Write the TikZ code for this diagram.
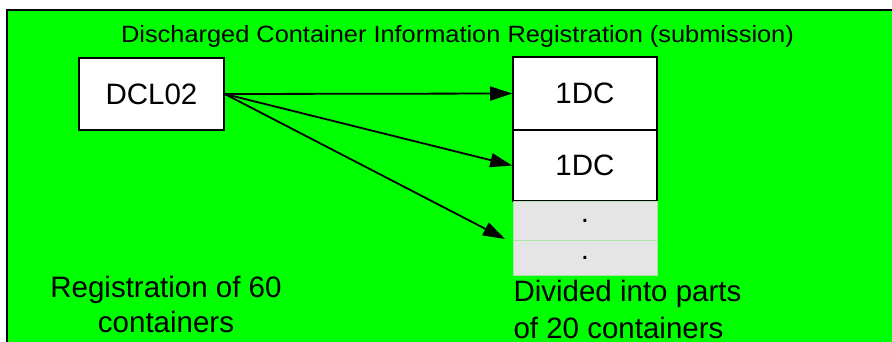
\documentclass[tikz,border=0pt]{standalone}
\usepackage{fontspec}
\setmainfont{Liberation Sans}
\usetikzlibrary{arrows.meta}
\definecolor{bggreen}{RGB}{0,255,0}
\definecolor{cellgray}{RGB}{229,229,229}
\definecolor{paleline}{RGB}{170,230,170}
\begin{document}
\begin{tikzpicture}[x=1pt,y=-1pt,
    box/.style={draw=black,fill=white,line width=1.6pt,inner sep=0pt,minimum width=144pt},
    cell/.style={draw=paleline,fill=cellgray,line width=0.8pt,inner sep=0pt,minimum width=144pt},
    big/.style={font=\fontsize{29.5}{35}\selectfont},
    arr/.style={line width=1.8pt,-{Triangle[length=22pt,width=14pt]}}]
    \useasboundingbox (0,0) rectangle (892,341);
    %BACKGROUND
    \draw[fill=bggreen,line width=2pt] (7,10) rectangle (905,355);
    %TITLE
    \node[anchor=base,font=\fontsize{23.5}{27}\selectfont] (title) at (457.5,42)
      {\scalebox{1.08}[1]{Discharged Container Information Registration (submission)}};
    %SOURCE BOX
    \node[box,big,minimum width=145pt,minimum height=72pt] (dcl) at (151.5,94) {DCL02};
    %PARTS
    \node[box,big,minimum height=73pt] (dc1) at (585,93.5) {1DC};
    \node[box,big,minimum height=71pt] (dc2) at (585,165.5) {1DC};
    \node[cell,big,minimum height=39pt] (cell1) at (585,220.5) {.};
    \node[cell,big,minimum height=35pt] (cell2) at (585,257.5) {.};
    % ARROWS
    \coordinate (tip) at (505,239);
    \draw[arr] (dcl.east) -- (dc1.west);
    \draw[arr] (dcl.east) -- (dc2.west);
    \draw[arr] (dcl.east) -- (tip);
    %NOTES (base = last line)
    \node[big,align=center,anchor=base] (left) at (166,332) {Registration of 60\\containers};
    \node[font=\fontsize{29.5}{37}\selectfont,align=left,anchor=base west] (right) at (510,338)
      {Divided into parts\\of 20 containers};
\end{tikzpicture}
\end{document}
